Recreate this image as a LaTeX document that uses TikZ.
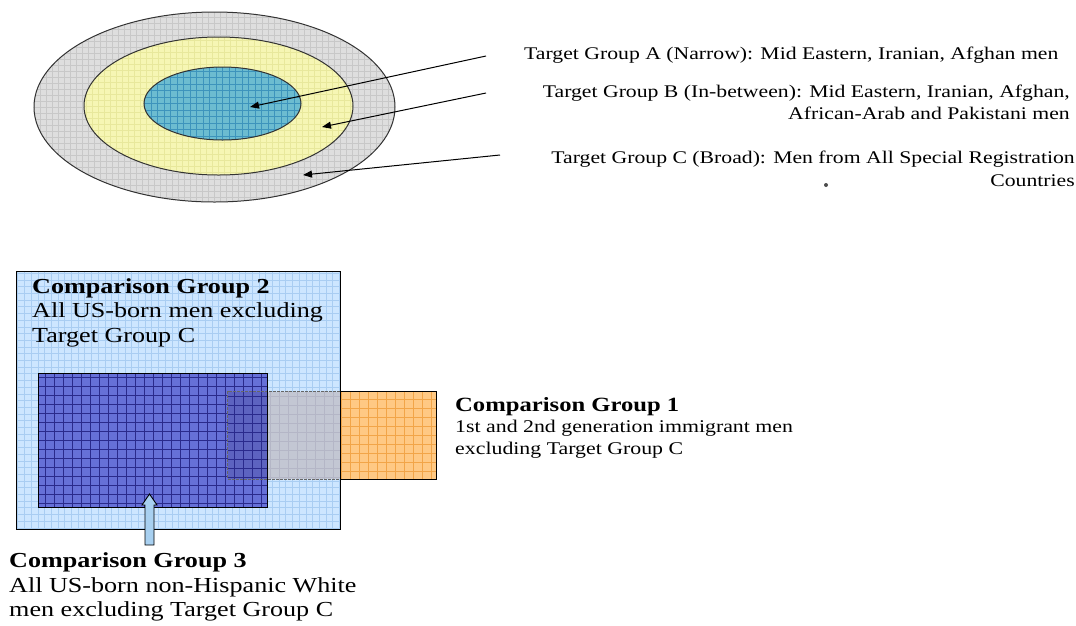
\documentclass[tikz,border=0pt]{standalone}
\usepackage{fontspec}
\setmainfont{Liberation Serif}[FakeStretch=1.22]
\usetikzlibrary{shapes.geometric,arrows.meta}
\definecolor{cGray}{HTML}{DEDEDE}\definecolor{cGrayG}{HTML}{C8C8C8}
\definecolor{cYel}{HTML}{F6F6B4}\definecolor{cYelG}{HTML}{E8E89C}
\definecolor{cCyan}{HTML}{6CBCD0}\definecolor{cCyanG}{HTML}{3D94BC}
\definecolor{cLBlue}{HTML}{CDE6FF}\definecolor{cLBlueG}{HTML}{A9CDF2}
\definecolor{cDBlue}{HTML}{6670D8}\definecolor{cDBlueG}{HTML}{2A2A8C}
\definecolor{cOr}{HTML}{FFC984}\definecolor{cOrG}{HTML}{F2A548}
\definecolor{cOvG}{HTML}{C3C7D3}\definecolor{cOvGG}{HTML}{B4B6C6}
\definecolor{cOvD}{HTML}{5D63C0}
\definecolor{cArr}{HTML}{A8D0F0}
\tikzset{
  gridfill/.style 2 args={path picture={\draw[line width=0.5pt,#1] (path picture bounding box.south west) grid[step=#2] (path picture bounding box.north east);}},
  ring/.style={ellipse, draw=black!80, line width=1pt, inner sep=0pt},
  box/.style={rectangle, inner sep=0pt},
  ptr/.style={line width=1pt, -{Triangle[length=9pt,width=7pt]}},
  toptext/.style={inner sep=0pt, font=\fontsize{17.8}{21.5}\selectfont},
  bigtext/.style={inner sep=0pt, align=left, font=\fontsize{21.4}{24.7}\selectfont},
}
\begin{document}
\begin{tikzpicture}[x=1pt,y=-1pt]
\useasboundingbox (0,0) rectangle (1076,625);
% ---- target group ellipses
\node[ring, fill=cGray, gridfill={cGrayG}{6pt}, minimum width=361pt, minimum height=190pt] (ellC) at (214.5,107) {};
\node[ring, fill=cYel, gridfill={cYelG}{6pt}, minimum width=269pt, minimum height=138pt] (ellB) at (218.5,106) {};
\node[ring, fill=cCyan, gridfill={cCyanG}{6.5pt}, minimum width=157pt, minimum height=73pt] (ellA) at (222.5,103.5) {};
% ---- labels
\node[toptext, anchor=base west] (labA) at (524,59) {Target Group A (Narrow): Mid Eastern, Iranian, Afghan men};
\node[toptext, anchor=north east, align=right] (labB) at (1070,85) {Target Group B (In-between): Mid Eastern, Iranian, Afghan,\\African-Arab and Pakistani men};
\node[toptext, anchor=north east, align=right, font=\fontsize{17.8}{23}\selectfont] (labC) at (1075,150.5) {Target Group C (Broad): Men from All Special Registration\\Countries};
\fill[black!70] (826,185) circle (2pt);
% ---- pointers
\coordinate (sA) at (486,56);  \coordinate (eA) at (250,107);
\coordinate (sB) at (486,93);  \coordinate (eB) at (322,127);
\coordinate (sC) at (500,155); \coordinate (eC) at (303,175);
\draw[ptr] (sA) -- (eA);
\draw[ptr] (sB) -- (eB);
\draw[ptr] (sC) -- (eC);
% ---- comparison boxes
\node[box, fill=cLBlue, gridfill={cLBlueG}{6.7pt}, minimum width=323pt, minimum height=257pt] (box2) at (178.5,400.5) {};
\node[box, fill=cDBlue, gridfill={cDBlueG}{9pt}, minimum width=228pt, minimum height=133pt] (box3) at (153,440.5) {};
\node[box, fill=cOr, gridfill={cOrG}{9pt}, minimum width=208pt, minimum height=87pt] (box1) at (332,435.5) {};
% overlaps
\fill[cOvG] (box3.east |- box1.north) rectangle (box2.east |- box1.south);
\begin{scope}
\clip (box3.east |- box1.north) rectangle (box2.east |- box1.south);
\draw[line width=0.5pt, cOvGG] (0,0) grid[step=9pt] (1076,625);
\end{scope}
\fill[cOvD] (box1.north west) rectangle (box3.east |- box1.south);
\begin{scope}
\clip (box1.north west) rectangle (box3.east |- box1.south);
\draw[line width=0.5pt, cDBlueG] (0,0) grid[step=9pt] (1076,625);
\end{scope}
% borders
\draw[line width=1pt, black!60, dash pattern=on 3pt off 1pt] (box2.east |- box1.north) -- (box1.north west) -- (box1.south west) -- (box2.east |- box1.south);
\draw[line width=1.2pt] (box2.east |- box1.north) -- (box1.north east) -- (box1.south east) -- (box2.east |- box1.south);
\draw[line width=1.2pt] (box3.north west) rectangle (box3.south east);
\draw[line width=1.2pt] (box2.north west) rectangle (box2.south east);
% labels
\node[bigtext, anchor=north west] (lab2) at (32,278) {\textbf{Comparison Group 2}\\All US-born men excluding\\Target Group C};
\node[inner sep=0pt, align=left, anchor=north west, font=\fontsize{17.9}{21.5}\selectfont] (lab1) at (455,397) {{\fontsize{20.2}{21.5}\selectfont\bfseries Comparison Group 1}\\1st and 2nd generation immigrant men\\excluding Target Group C};
\node[bigtext, anchor=north west] (lab3) at (9,552.5) {\textbf{Comparison Group 3}\\All US-born non-Hispanic White\\men excluding Target Group C};
% block arrow from label 3 up into box 3
\coordinate (tip3) at (149.5,494);
\draw[line width=0.9pt, fill=cArr] (tip3) -- ++(7.5,11) -- ++(-3,0) -- ++(0,40) -- ++(-9,0) -- ++(0,-40) -- ++(-3,0) -- cycle;
\end{tikzpicture}
\end{document}
